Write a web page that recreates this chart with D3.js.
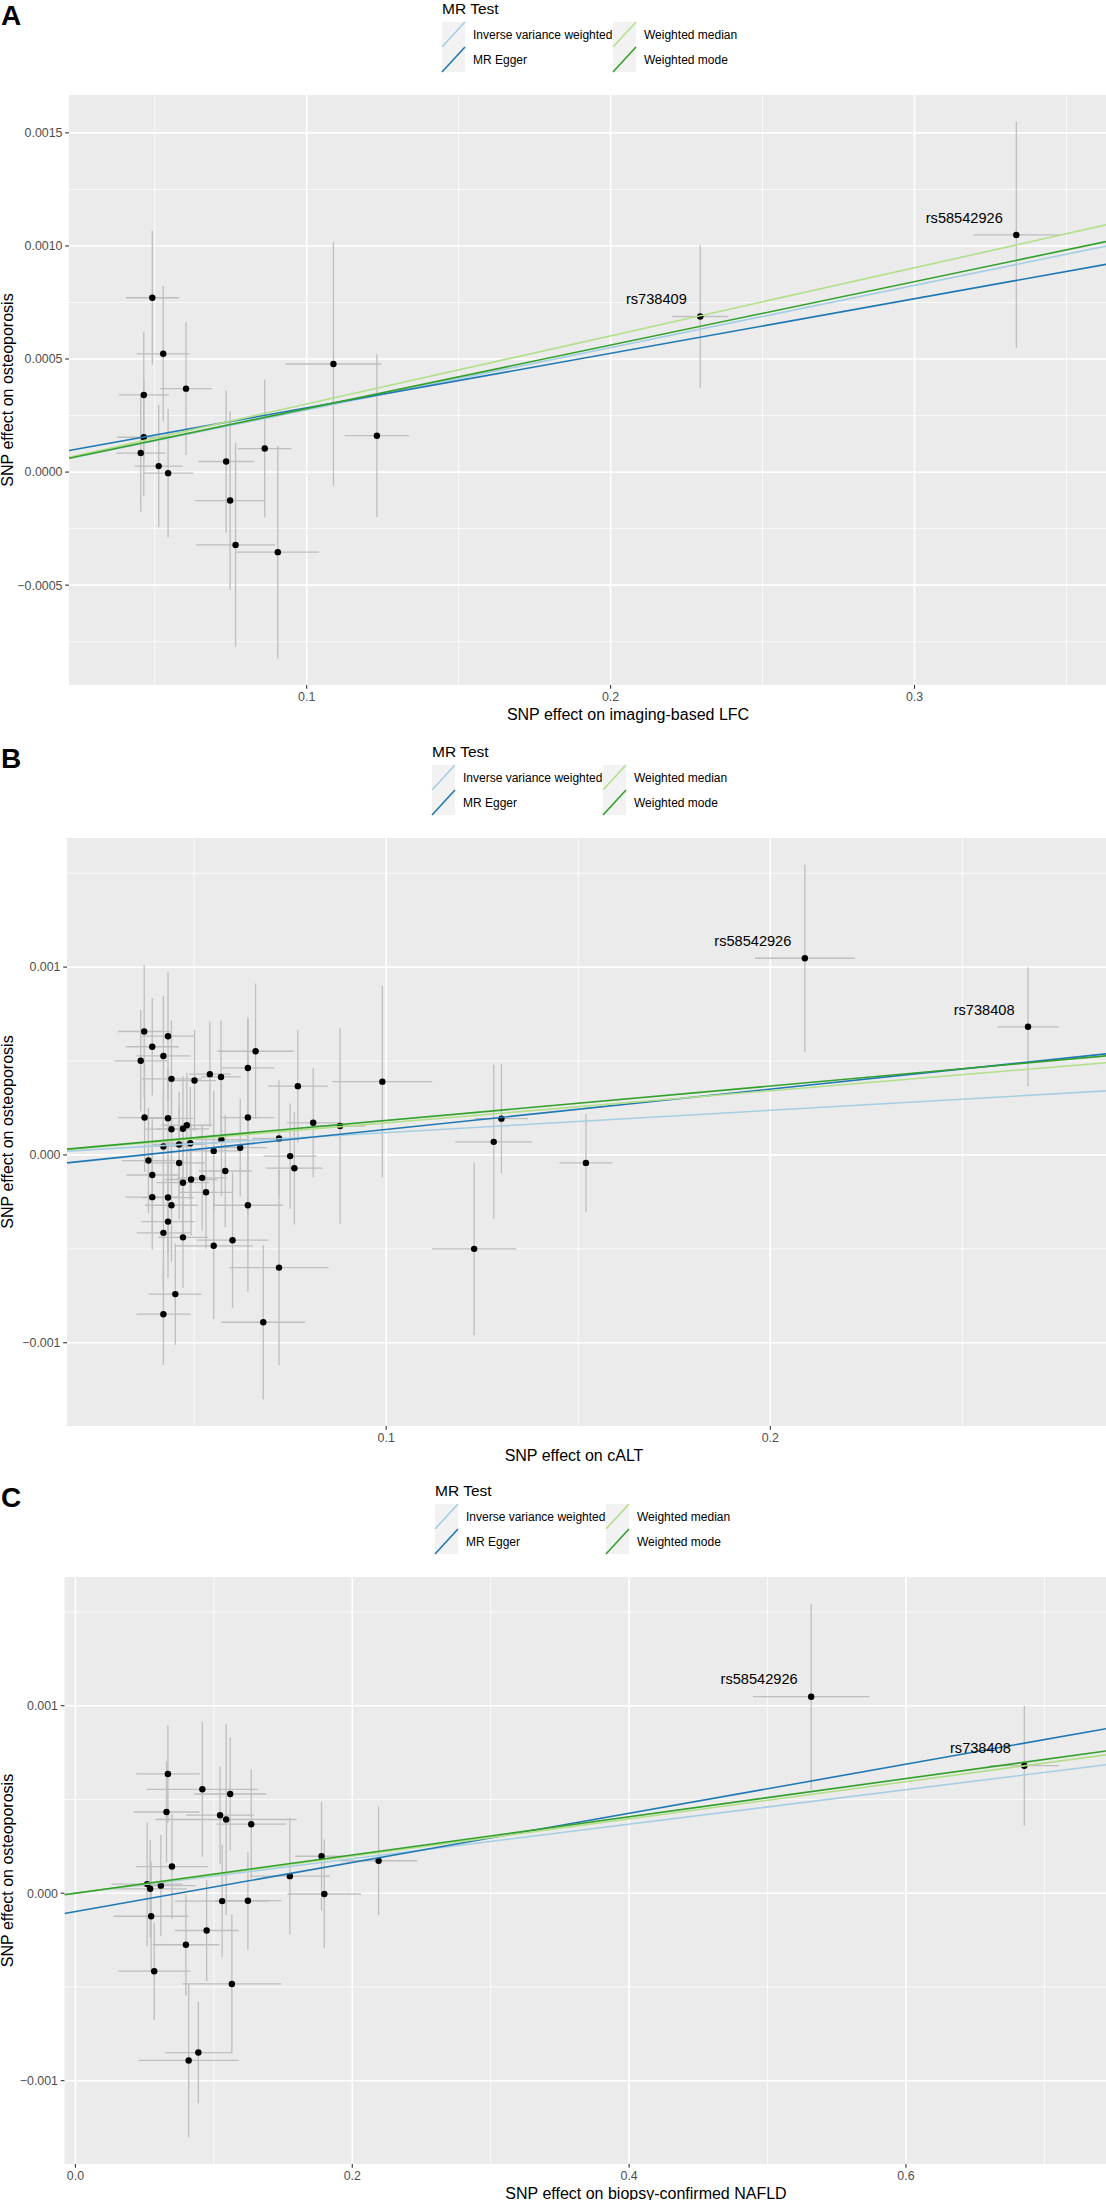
<!DOCTYPE html>
<html>
<head>
<meta charset="utf-8">
<script src="https://d3js.org/d3.v7.min.js"></script>
<style>
  body { margin: 0; background: #fff; }
  svg text { font-family: "Liberation Sans", Arial, Helvetica, sans-serif; }
</style>
</head>
<body>
<div id="chart"></div>
<script>
// MR methods shared by the three scatter plots
var methodNames = ["Inverse variance weighted", "MR Egger", "Weighted median", "Weighted mode"];

// A: imaging-based LFC -> osteoporosis
var lfcBx = [0.0492, 0.0528, 0.0603, 0.0464, 0.0464, 0.0454, 0.0513, 0.0544, 0.0735, 0.0748, 0.0766, 0.0862, 0.0905, 0.1088, 0.1231, 0.2295, 0.3335];
var lfcBy = [0.000771, 0.000523, 0.000369, 0.000341, 0.000154, 0.0000841, 0.0000265, -0.0000047, 0.0000467, -0.000126, -0.000322, 0.000104, -0.000354, 0.000478, 0.000161, 0.000688, 0.001049];
var lfcSeX = [0.0087, 0.0087, 0.0085, 0.0083, 0.0087, 0.0081, 0.0079, 0.0083, 0.0091, 0.0115, 0.013, 0.0088, 0.0136, 0.0158, 0.0106, 0.0092, 0.014];
var lfcSeY = [0.000296, 0.0003, 0.000294, 0.00028, 0.00026, 0.00026, 0.00027, 0.000285, 0.000315, 0.000395, 0.00045, 0.000305, 0.000469, 0.00054, 0.00036, 0.000315, 0.0005];
var lfcLabels = ["", "", "", "", "", "", "", "", "", "", "", "", "", "", "", "rs738409", "rs58542926"];
var lfcSlope = [0.002753, 0.002412, 0.003012, 0.002808];
var lfcIntercept = [0, 0.000043, 0, 0];
var lfcXTicks = [0.1, 0.2, 0.3];
var lfcYTicks = [-0.0005, 0, 0.0005, 0.001, 0.0015];
var lfcYTickLabels = ["\u22120.0005", "0.0000", "0.0005", "0.0010", "0.0015"];

// B: cALT -> osteoporosis
var altBx = [0.0370, 0.0432, 0.0391, 0.0420, 0.0361, 0.0660, 0.0640, 0.0541, 0.0570, 0.0441, 0.0501, 0.0990, 0.0770, 0.0371, 0.0432, 0.0640, 0.0441, 0.0471, 0.0481, 0.0810, 0.0880, 0.0571, 0.0721, 0.0420, 0.0461, 0.0490, 0.0551, 0.0620, 0.0381, 0.0461, 0.0750, 0.0761, 0.0581, 0.0391, 0.0471, 0.0492, 0.0521, 0.0531, 0.0391, 0.0432, 0.0441, 0.0640, 0.0432, 0.0420, 0.0471, 0.0551, 0.0600, 0.0721, 0.0451, 0.0420, 0.0680, 0.152, 0.130, 0.128, 0.1229, 0.209, 0.2671];
var altBy = [0.000657, 0.000632, 0.000576, 0.000527, 0.000501, 0.000552, 0.000463, 0.000430, 0.000415, 0.000405, 0.000396, 0.000390, 0.000366, 0.000199, 0.000195, 0.000199, 0.000137, 0.000139, 0.000158, 0.000171, 0.000154, 0.0000814, 0.0000878, 0.000045, 0.0000557, 0.0000621, 0.0000214, 0.0000385, -0.00003, -0.0000428, -0.0000064, -0.0000707, -0.0000857, -0.000107, -0.000148, -0.000131, -0.000122, -0.000199, -0.000225, -0.000227, -0.000268, -0.000268, -0.000355, -0.000415, -0.000439, -0.000484, -0.000454, -0.0006, -0.000741, -0.000848, -0.000891, -0.0000426, 0.000193, 0.0000695, -0.0005, 0.001047, 0.000682];
var altSeX = [0.0068, 0.0067, 0.0069, 0.007, 0.0069, 0.0099, 0.0069, 0.0054, 0.0052, 0.0078, 0.0056, 0.013, 0.0078, 0.0069, 0.0066, 0.0069, 0.0069, 0.0068, 0.0066, 0.0069, 0.0065, 0.0068, 0.0069, 0.0067, 0.0069, 0.007, 0.0069, 0.0069, 0.0069, 0.0068, 0.0069, 0.0074, 0.0069, 0.0067, 0.0069, 0.0068, 0.0066, 0.0069, 0.0069, 0.0068, 0.0069, 0.0091, 0.0069, 0.0069, 0.0065, 0.0102, 0.0093, 0.0129, 0.0069, 0.007, 0.0109, 0.0069, 0.0069, 0.01, 0.011, 0.013, 0.008];
var altSeY = [0.000353, 0.00034, 0.00026, 0.00032, 0.00027, 0.00036, 0.00027, 0.00028, 0.0003, 0.00031, 0.00027, 0.00051, 0.0003, 0.00029, 0.00026, 0.00052, 0.00028, 0.00028, 0.00028, 0.00029, 0.00052, 0.0003, 0.00031, 0.0003, 0.00028, 0.0003, 0.00032, 0.00026, 0.00028, 0.0003, 0.00028, 0.0003, 0.0003, 0.0003, 0.0003, 0.0003, 0.00028, 0.0003, 0.00028, 0.0003, 0.0003, 0.00046, 0.0003, 0.00029, 0.00027, 0.00039, 0.00036, 0.00052, 0.00027, 0.00027, 0.00041, 0.00026, 0.00029, 0.00041, 0.00046, 0.000498, 0.000317];
var altLabels = altBx.map(function(d, i){ return i == 55 ? "rs58542926" : (i == 56 ? "rs738408" : ""); });
var altSlope = [0.001187, 0.002146, 0.001708, 0.001834];
var altIntercept = [0, -0.0000789, 0, 0];
var altXTicks = [0.1, 0.2];
var altYTicks = [-0.001, 0, 0.001];
var altYTickLabels = ["\u22120.001", "0.000", "0.001"];

// C: biopsy-confirmed NAFLD -> osteoporosis
var naflBx = [0.0668, 0.0658, 0.0917, 0.1118, 0.1045, 0.1089, 0.127, 0.0697, 0.0518, 0.054, 0.0617, 0.0547, 0.1549, 0.1778, 0.1798, 0.219, 0.106, 0.1246, 0.0948, 0.0798, 0.0569, 0.113, 0.0888, 0.0818, 0.5315, 0.6855];
var naflBy = [0.000636, 0.000433, 0.000554, 0.000529, 0.000416, 0.000393, 0.000368, 0.000142, 0.0000486, 0.0000233, 0.0000402, -0.000123, 0.0000909, 0.000197, -0.0000042, 0.000173, -0.0000423, -0.00004, -0.000199, -0.000275, -0.000416, -0.000484, -0.00085, -0.000892, 0.001048, 0.00068];
var naflSeX = [0.023, 0.0237, 0.04, 0.026, 0.0245, 0.051, 0.025, 0.026, 0.0255, 0.0266, 0.025, 0.027, 0.029, 0.019, 0.0266, 0.028, 0.034, 0.024, 0.023, 0.024, 0.026, 0.0357, 0.024, 0.036, 0.042, 0.0248];
var naflSeY = [0.00026, 0.00027, 0.00036, 0.0003, 0.00026, 0.00051, 0.00029, 0.00028, 0.00033, 0.00026, 0.00027, 0.00029, 0.00031, 0.00029, 0.00029, 0.00029, 0.0003, 0.00026, 0.00027, 0.00027, 0.00026, 0.00037, 0.00027, 0.00041, 0.000496, 0.000319];
var naflLabels = naflBx.map(function(d, i){ return i == 24 ? "rs58542926" : (i == 25 ? "rs738408" : ""); });
var naflSlope = [0.00092, 0.00131, 0.000991, 0.001019];
var naflIntercept = [0, -0.000098, 0, 0];
var naflXTicks = [0.0, 0.2, 0.4, 0.6];
var naflYTicks = [-0.001, 0, 0.001];
var naflYTickLabels = ["\u22120.001", "0.000", "0.001"];

var width = 1106, height = 2200;
var methodColors = ["#a6cee3", "#1f78b4", "#b2df8a", "#33a02c"];

var svg = d3.select("#chart").append("svg")
    .attr("width", width)
    .attr("height", height);

//panel layout: pixel boxes of each sub-figure
var panels = [
  {tag: "A", top: 95, bottom: 685, left: 69, legendX: 442, titleX: 628, xlab: "SNP effect on imaging-based LFC",
   bx: lfcBx, by: lfcBy, sx: lfcSeX, sy: lfcSeY, labels: lfcLabels, slope: lfcSlope, icpt: lfcIntercept,
   xt: lfcXTicks, xtl: lfcXTicks.map(d3.format(".1f")), yt: lfcYTicks, ytl: lfcYTickLabels},
  {tag: "B", top: 838, bottom: 1426, left: 67, legendX: 432, titleX: 574, xlab: "SNP effect on cALT",
   bx: altBx, by: altBy, sx: altSeX, sy: altSeY, labels: altLabels, slope: altSlope, icpt: altIntercept,
   xt: altXTicks, xtl: altXTicks.map(d3.format(".1f")), yt: altYTicks, ytl: altYTickLabels},
  {tag: "C", top: 1577, bottom: 2164, left: 64.5, legendX: 435, titleX: 646, xlab: "SNP effect on biopsy-confirmed NAFLD",
   bx: naflBx, by: naflBy, sx: naflSeX, sy: naflSeY, labels: naflLabels, slope: naflSlope, icpt: naflIntercept,
   xt: naflXTicks, xtl: naflXTicks.map(d3.format(".1f")), yt: naflYTicks, ytl: naflYTickLabels}
];

//ggplot style 5% expansion of the error bar extent
function expand(lo, hi){
  var r = hi - lo;
  return [lo - 0.05 * r, hi + 0.05 * r];
}

//minor breaks half way between the major ones
function minorBreaks(major, dom){
  var step = major[1] - major[0], out = [];
  for (var k = -1; k < major.length; k++){
    var v = major[0] + (k + 0.5) * step;
    if (v >= dom[0] && v <= dom[1]) out.push(v);
  }
  return out;
}

panels.forEach(function(p, pi){
  var n = p.bx.length;
  var idx = d3.range(n);
  var xDom = expand(d3.min(idx, function(i){ return p.bx[i] - p.sx[i]; }), d3.max(idx, function(i){ return p.bx[i] + p.sx[i]; }));
  var yDom = expand(d3.min(idx, function(i){ return p.by[i] - p.sy[i]; }), d3.max(idx, function(i){ return p.by[i] + p.sy[i]; }));

  var x = d3.scaleLinear().domain(xDom).range([p.left, width]);
  var y = d3.scaleLinear().domain(yDom).range([p.bottom, p.top]);

  var g = svg.append("g").attr("class", "panel" + p.tag);

  // background + grid
  g.append("rect")
      .attr("x", p.left).attr("y", p.top)
      .attr("width", width - p.left).attr("height", p.bottom - p.top)
      .attr("fill", "#ebebeb");

  g.selectAll(".xminor").data(minorBreaks(p.xt, xDom)).enter().append("line")
      .attr("x1", x).attr("x2", x).attr("y1", p.top).attr("y2", p.bottom)
      .attr("stroke", "#fff").attr("stroke-width", 0.8);
  g.selectAll(".yminor").data(minorBreaks(p.yt, yDom)).enter().append("line")
      .attr("y1", y).attr("y2", y).attr("x1", p.left).attr("x2", width)
      .attr("stroke", "#fff").attr("stroke-width", 0.8);
  g.selectAll(".xmajor").data(p.xt.filter(function(v){ return v >= xDom[0] && v <= xDom[1]; })).enter().append("line")
      .attr("x1", x).attr("x2", x).attr("y1", p.top).attr("y2", p.bottom)
      .attr("stroke", "#fff").attr("stroke-width", 1.6);
  g.selectAll(".ymajor").data(p.yt).enter().append("line")
      .attr("y1", y).attr("y2", y).attr("x1", p.left).attr("x2", width)
      .attr("stroke", "#fff").attr("stroke-width", 1.6);

  var clipId = "clip" + p.tag;
  svg.append("clipPath").attr("id", clipId).append("rect")
      .attr("x", p.left).attr("y", p.top)
      .attr("width", width - p.left).attr("height", p.bottom - p.top);

  var plot = g.append("g").attr("clip-path", "url(#" + clipId + ")");

  // error bars
  plot.selectAll(".ev").data(idx).enter().append("line")
      .attr("x1", function(i){ return x(p.bx[i]); })
      .attr("x2", function(i){ return x(p.bx[i]); })
      .attr("y1", function(i){ return y(p.by[i] - p.sy[i]); })
      .attr("y2", function(i){ return y(p.by[i] + p.sy[i]); })
      .attr("stroke", "#bebebe").attr("stroke-width", 1.3);
  plot.selectAll(".eh").data(idx).enter().append("line")
      .attr("y1", function(i){ return y(p.by[i]); })
      .attr("y2", function(i){ return y(p.by[i]); })
      .attr("x1", function(i){ return x(p.bx[i] - p.sx[i]); })
      .attr("x2", function(i){ return x(p.bx[i] + p.sx[i]); })
      .attr("stroke", "#bebebe").attr("stroke-width", 1.3);

  plot.selectAll(".pt").data(idx).enter().append("circle")
      .attr("cx", function(i){ return x(p.bx[i]); })
      .attr("cy", function(i){ return y(p.by[i]); })
      .attr("r", 3.2)
      .attr("fill", "#000");

  // fitted MR lines
  plot.selectAll(".mr").data(methodNames).enter().append("line")
      .attr("x1", x(xDom[0])).attr("x2", x(xDom[1]))
      .attr("y1", function(d, m){ return y(p.icpt[m] + p.slope[m] * xDom[0]); })
      .attr("y2", function(d, m){ return y(p.icpt[m] + p.slope[m] * xDom[1]); })
      .attr("stroke", function(d, m){ return methodColors[m]; })
      .attr("stroke-width", 1.6);

  // SNP labels
  plot.selectAll(".lab").data(idx.filter(function(i){ return p.labels[i] != ""; })).enter().append("text")
      .attr("x", function(i){ return x(p.bx[i]) - 13.5; })
      .attr("y", function(i){ return y(p.by[i]) - 12.3; })
      .attr("text-anchor", "end")
      .attr("font-size", "14.6px")
      .attr("fill", "#000")
      .text(function(i){ return p.labels[i]; });

  // axes ticks and labels
  g.selectAll(".yt").data(p.yt).enter().append("line")
      .attr("x1", p.left - 3.8).attr("x2", p.left)
      .attr("y1", y).attr("y2", y)
      .attr("stroke", "#333").attr("stroke-width", 1.1);
  g.selectAll(".ytl").data(p.yt).enter().append("text")
      .attr("x", p.left - 6.5)
      .attr("y", function(d){ return y(d) + 4.4; })
      .attr("text-anchor", "end")
      .attr("font-size", "12.4px")
      .attr("fill", "#4d4d4d")
      .text(function(d, i){ return p.ytl[i]; });

  var xIn = p.xt.filter(function(v){ return v >= xDom[0] && v <= xDom[1]; });
  g.selectAll(".xtk").data(xIn).enter().append("line")
      .attr("x1", x).attr("x2", x)
      .attr("y1", p.bottom).attr("y2", p.bottom + 3.8)
      .attr("stroke", "#333").attr("stroke-width", 1.1);
  g.selectAll(".xtl").data(xIn).enter().append("text")
      .attr("x", x)
      .attr("y", p.bottom + 16.3)
      .attr("text-anchor", "middle")
      .attr("font-size", "12.4px")
      .attr("fill", "#4d4d4d")
      .text(function(d){ return p.xtl[p.xt.indexOf(d)]; });

  // axis titles
  g.append("text")
      .attr("x", p.titleX)
      .attr("y", p.bottom + 34.5)
      .attr("text-anchor", "middle")
      .attr("font-size", "16px")
      .text(p.xlab);
  g.append("text")
      .attr("transform", "translate(13," + ((p.top + p.bottom) / 2) + ") rotate(-90)")
      .attr("text-anchor", "middle")
      .attr("font-size", "16px")
      .text("SNP effect on osteoporosis");

  // panel tag
  g.append("text")
      .attr("x", 1)
      .attr("y", p.top - 70)
      .attr("font-size", "28px")
      .attr("font-weight", "bold")
      .text(p.tag);

  // legend (two columns)
  var lg = g.append("g").attr("transform", "translate(" + p.legendX + "," + (p.top - 73) + ")");
  lg.append("text")
      .attr("x", 0).attr("y", -8.5)
      .attr("font-size", "15.5px")
      .text("MR Test");
  methodNames.forEach(function(name, m){
    var col = Math.floor(m / 2), row = m % 2;
    var kx = col * 171, ky = row * 25;
    lg.append("rect")
        .attr("x", kx).attr("y", ky)
        .attr("width", 23).attr("height", 25)
        .attr("fill", "#f2f2f2");
    lg.append("line")
        .attr("x1", kx).attr("y1", ky + 25)
        .attr("x2", kx + 23).attr("y2", ky)
        .attr("stroke", methodColors[m]).attr("stroke-width", 1.6);
    lg.append("text")
        .attr("x", kx + 31).attr("y", ky + 12.5 + 4.3)
        .attr("font-size", "12px")
        .text(name);
  });
});
</script>
</body>
</html>
